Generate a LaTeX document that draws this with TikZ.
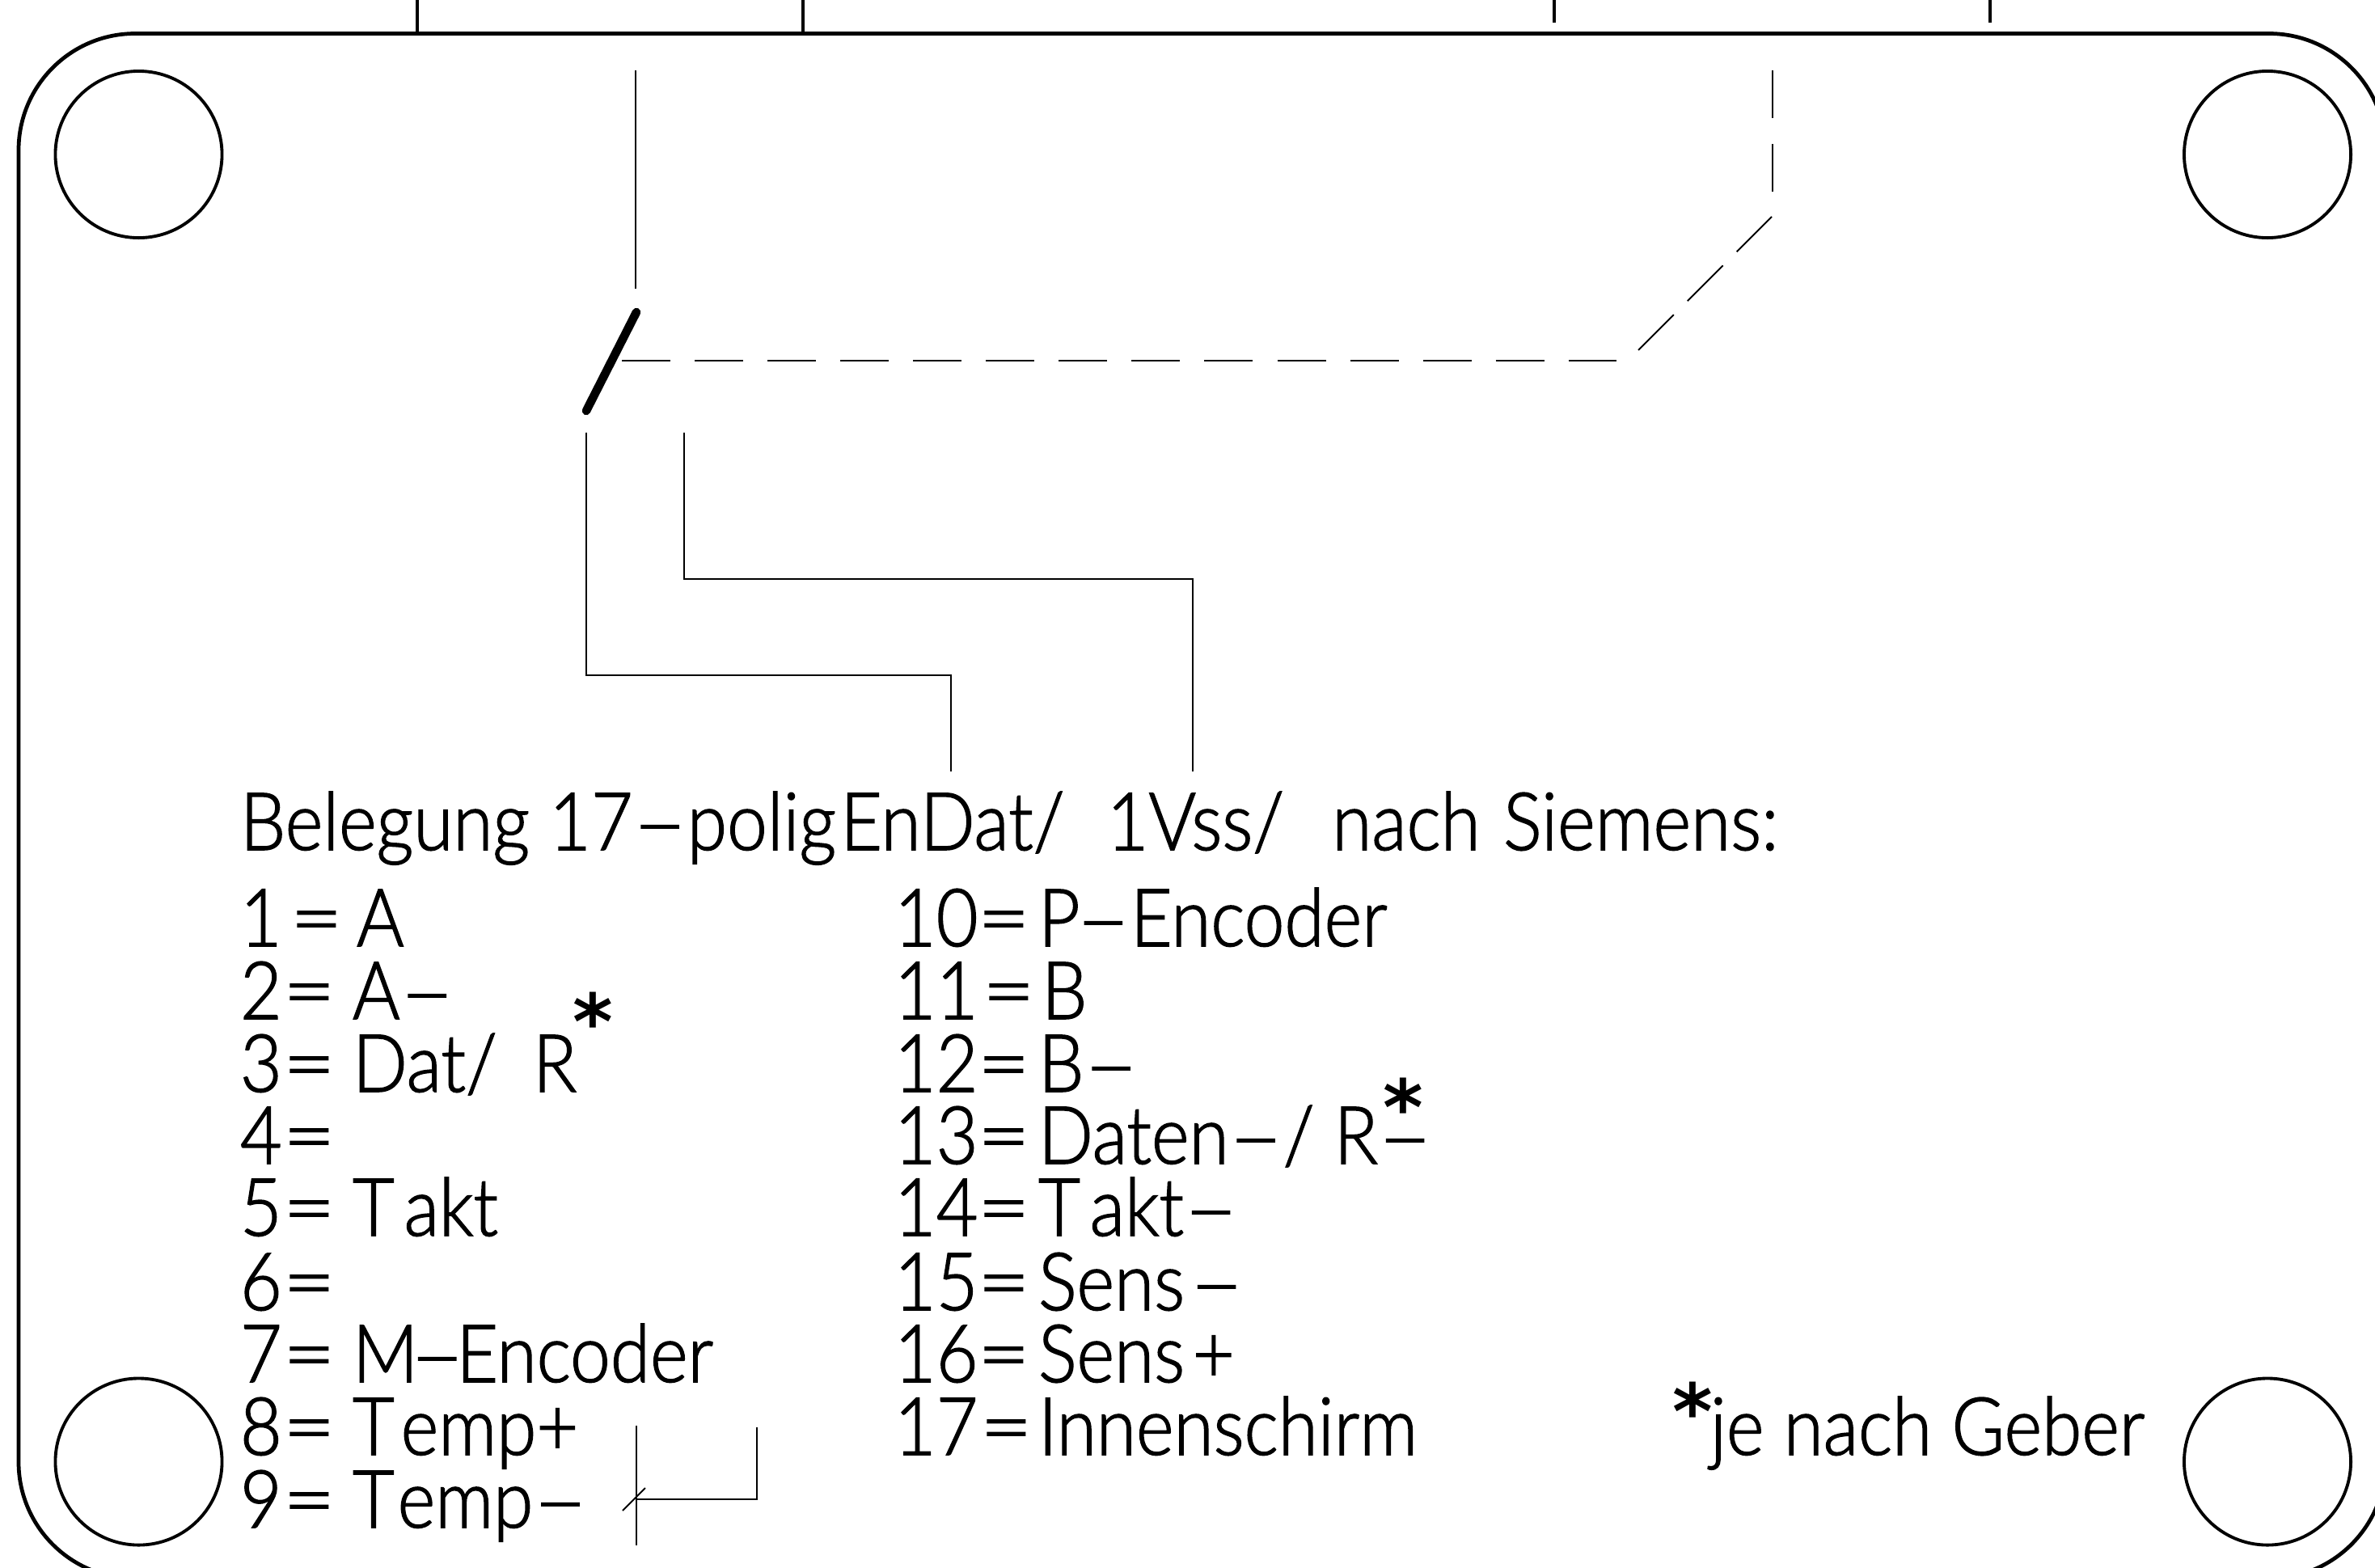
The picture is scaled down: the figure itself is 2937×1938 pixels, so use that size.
\documentclass[tikz,border=0pt]{standalone}
\usepackage{fontspec}
\usepackage{graphicx}
\setmainfont{Lato}[UprightFont=* Light,FakeStretch=0.9,FakeBold=1.5]
\newfontfamily\starfont{DejaVu Sans Bold}
\tikzset{
  outline/.style={line width=1.35pt,line cap=butt},
  hole/.style={line width=1.1pt},
  wire/.style={line width=0.55pt},
  contact/.style={line width=3pt,line cap=round},
  dashh/.style={wire,dash pattern=on 0.6cm off 0.3cm},
  dashv/.style={wire,dash pattern=on 0.59cm off 0.32cm},
  dashd/.style={wire,dash pattern=on 0.62cm off 0.24cm},
  lbl/.style={anchor=base west,inner sep=0pt,outer sep=0pt,font=\fontsize{28.2pt}{30pt}\selectfont},
  star/.style={anchor=base,inner sep=0pt,outer sep=0pt,font=\fontsize{27pt}{29pt}\starfont}
}
\newcommand{\dd}{\scalebox{1.3}[1]{–}}
\newcommand{\eqq}{\scalebox{1.25}[1]{=}}
\newcommand{\pinA}[5][0cm]{\node[lbl] (#2) at (297,#3) {\makebox[0.53cm][l]{#4}\kern#1\makebox[0.86cm][l]{\eqq}\kern-#1 #5};}
\newcommand{\pinB}[5][0cm]{\node[lbl] (#2) at (1106,#3) {\makebox[1.03cm][l]{#4}\kern#1\makebox[0.75cm][l]{\eqq}\kern-#1 #5};}
\begin{document}
\begin{tikzpicture}[x=0.01cm,y=-0.01cm]
\useasboundingbox (0,0) rectangle (2937,1938);
\clip (0,0) rectangle (2937,1938);
% housing
\draw[outline,rounded corners=1.44cm] (23,41.5) rectangle (2950,1952);
\draw[outline] (516,0) -- (516,41.5);
\draw[outline] (993,0) -- (993,41.5);
\draw[outline] (1922,0) -- (1922,28);
\draw[outline] (2461,0) -- (2461,28);
% mounting holes
\foreach \cx/\cy in {171.5/191,2804/191,171.5/1807.5,2804/1807.5}
  \draw[hole] (\cx,\cy) circle[radius=1.03cm];
% switch
\draw[wire] (786,87) -- (786,357);
\draw[contact] (787,386) -- (725,508);
\draw[dashh] (769,446) -- (1999,446);
\draw[dashd] (2026,433) -- (2191,268);
\draw[dashv] (2192,87) -- (2192,237);
\draw[wire] (725,535) -- (725,835) -- (1176,835) -- (1176,954);
\draw[wire] (846,535) -- (846,716) -- (1475,716) -- (1475,954);
% small symbol
\draw[wire] (787,1763) -- (787,1911);
\draw[wire] (787,1854) -- (936,1854) -- (936,1765);
\draw[wire] (770,1868) -- (798,1840);
% text
\node[lbl] (head) at (297,1051) {Belegung 17\dd polig\kern-0.19cm{} EnDat/\kern0.28cm{} 1Vss/\kern0.35cm{} nach\kern0.04cm{} Siemens:};
\pinA[0.09cm]{p1}{1170}{1}{\kern0.05cm A}
\pinA{p2}{1260}{2}{A\dd}
\pinA{p3}{1350}{3}{Dat/\kern0.2cm{} R}
\pinA{p4}{1439}{4}{}
\pinA{p5}{1528}{5}{T\kern0.12cm akt}
\pinA{p6}{1620}{6}{}
\pinA{p7}{1709}{7}{M\kern-0.1cm\dd\kern-0.1cm Encoder}
\pinA{p8}{1799}{8}{T\kern0.08cm emp+}
\pinA{p9}{1889}{9}{T\kern0.04cm emp\dd}
\pinB{p10}{1170}{10}{P\kern-0.05cm\dd Encoder}
\pinB[0.06cm]{p11}{1260}{11}{\kern0.04cm B}
\pinB{p12}{1350}{12}{B\dd}
\pinB{p13}{1439}{13}{Daten\dd/ R\dd}
\pinB{p14}{1528}{14}{T\kern0.12cm akt\dd}
\pinB{p15}{1620}{15}{Sens\kern0.06cm\dd}
\pinB{p16}{1709}{16}{Sens\kern0.1cm+}
\pinB[0.03cm]{p17}{1799}{17}{Innenschirm}
\node[lbl] (note) at (2115,1799) {je nach Geber};
\node[star] (s1) at (733,1297) {*};
\node[star] (s2) at (1735,1403) {*};
\node[star] (s3) at (2093,1779) {*};
\end{tikzpicture}
\end{document}
